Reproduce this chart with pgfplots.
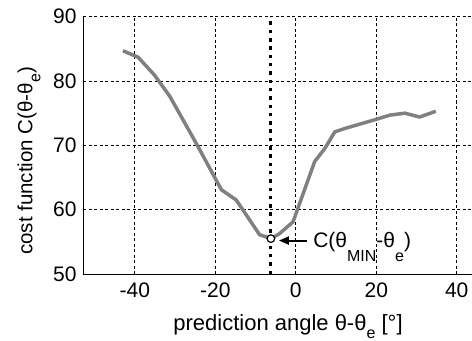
\documentclass[border=0pt]{standalone}
\usepackage{pgfplots}
\pgfplotsset{compat=1.18}
\usepackage{fontspec}
\setmainfont{Liberation Sans}
\usetikzlibrary{arrows.meta}
\newcommand\sub[1]{\raisebox{-8pt}{\fontsize{16}{16}\selectfont #1}}
\newcommand\subb[1]{\raisebox{-14pt}{\fontsize{16}{16}\selectfont #1}}
\begin{document}
\begin{tikzpicture}
\begin{axis}[
  name=ax,
  scale only axis,
  width=389pt, height=257.3pt,
  xmin=-52.9, xmax=43.8, ymin=50, ymax=90,
  xtick={-40,-20,0,20,40}, ytick={50,60,70,80,90},
  axis x line*=bottom, axis y line*=left,
  axis line style={line width=1pt},
  tick style={draw=none},
  grid=major,
  major grid style={black, line width=0.8pt, dash pattern=on 3pt off 2.5pt},
  /pgf/number format/assume math mode=true,
  tick label style={font=\fontsize{21}{22}\selectfont},
  xticklabel style={anchor=north, inner sep=0pt, yshift=-8.7pt},
  yticklabel style={anchor=east, inner sep=0pt, xshift=-6.3pt},
  xlabel={prediction angle θ-θ\sub{e} [°]},
  xlabel style={font=\fontsize{22}{24}\selectfont, at={(axis description cs:0.5,0)}, anchor=base, inner sep=0pt, yshift=-56pt, xshift=10.5pt},
  clip=false,
]
\addplot[color=black!50, line width=3.5pt, line join=round] coordinates {
(-42.96,84.7) (-39.2,83.7) (-35.1,80.9) (-31.3,77.6) (-24.3,69.8)
(-18.5,63.1) (-14.8,61.5) (-9.0,56.1) (-6.1,55.5) (-4.0,56.3)
(-0.7,58.1) (4.7,67.5) (7.2,69.5) (9.7,72.1) (12.6,72.7)
(19.2,73.9) (23.4,74.7) (27.1,75.0) (30.8,74.4) (34.8,75.3)
};
\addplot[black, line width=3.5pt, dash pattern=on 3.5pt off 4.8pt] coordinates {(-6.3,50) (-6.3,90)};
\addplot[only marks, mark=*, mark size=3.8pt, mark options={fill=white, draw=black, line width=1.2pt}] coordinates {(-6.2,55.5)};
\addplot[black, line width=2pt, -{Triangle[length=10pt,width=8pt]}] coordinates {(2.7,55.2) (-4.2,55.2)};
\node[anchor=base west, inner sep=0pt, font=\fontsize{21}{22}\selectfont] at (axis cs:4.3,54.15) {C(θ\subb{MIN}-θ\subb{e})};
\end{axis}
\node[rotate=90, anchor=base west, inner sep=0pt, font=\fontsize{20.5}{22}\selectfont] at ([xshift=-50.6pt, yshift=19pt]ax.south west) {cost function C(θ-θ\sub{e})};
\pgfresetboundingbox
\path ([xshift=-83pt,yshift=-66pt]ax.south west) rectangle ([yshift=16.7pt]ax.north east);
\end{tikzpicture}
\end{document}
